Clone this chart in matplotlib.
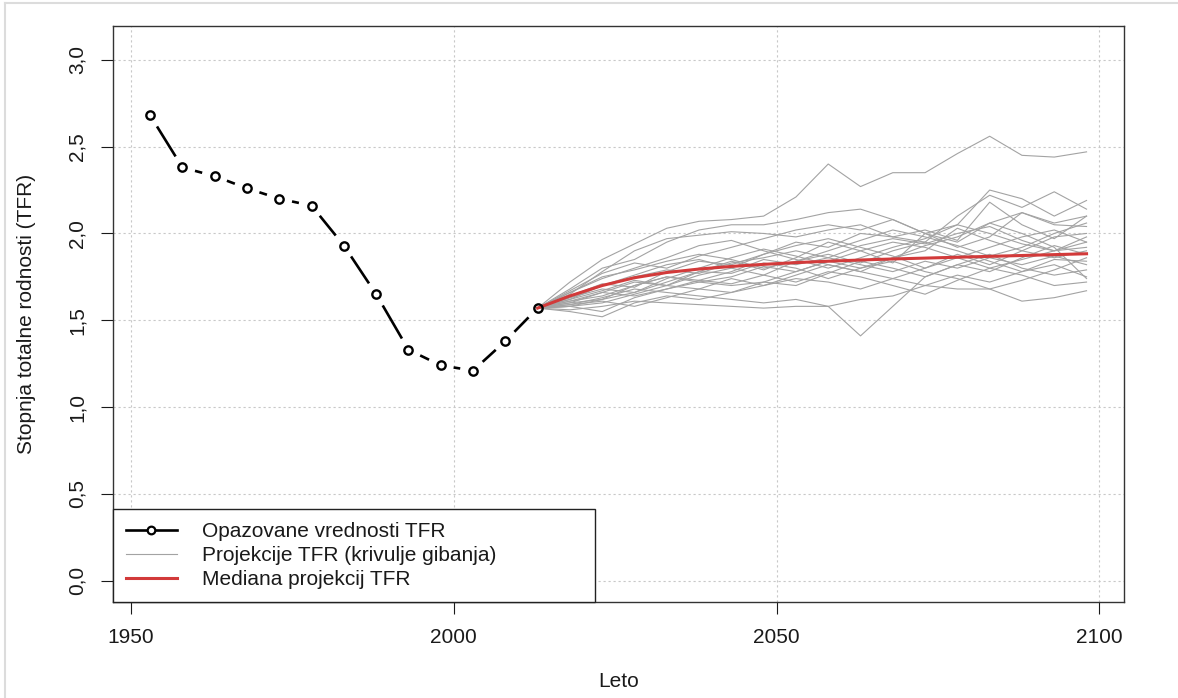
import numpy as np
import matplotlib
matplotlib.use("Agg")
from matplotlib import pyplot as plt
from matplotlib.lines import Line2D

plt.rcParams['font.family'] = ['Liberation Sans', 'DejaVu Sans']

# observed TFR (5-year periods, mid-points)
obs_years = [1953, 1958, 1963, 1968, 1973, 1978, 1983, 1988, 1993, 1998, 2003, 2008, 2013]
obs_tfr = [2.68, 2.38, 2.33, 2.26, 2.20, 2.16, 1.93, 1.65, 1.33, 1.24, 1.21, 1.38, 1.57]

# projections
proj_years = [2013, 2018, 2023, 2028, 2033, 2038, 2043, 2048, 2053, 2058,
              2063, 2068, 2073, 2078, 2083, 2088, 2093, 2098]
traj01 = [1.57, 1.72, 1.85, 1.94, 2.03, 2.07, 2.08, 2.10, 2.21, 2.40, 2.27, 2.35, 2.35, 2.46, 2.56, 2.45, 2.44, 2.47]
traj02 = [1.57, 1.68, 1.80, 1.85, 1.95, 2.02, 2.05, 2.05, 2.08, 2.12, 2.14, 2.08, 2.00, 2.05, 2.25, 2.20, 2.10, 2.19]
traj03 = [1.57, 1.65, 1.78, 1.90, 1.97, 1.99, 2.01, 2.00, 1.98, 2.02, 2.05, 1.98, 1.95, 2.10, 2.22, 2.15, 2.24, 2.14]
traj04 = [1.57, 1.62, 1.70, 1.76, 1.82, 1.85, 1.80, 1.88, 1.95, 1.92, 2.00, 1.98, 2.02, 1.96, 2.18, 2.05, 1.97, 2.10]
traj05 = [1.57, 1.60, 1.66, 1.72, 1.70, 1.78, 1.84, 1.79, 1.86, 1.95, 1.90, 1.83, 2.00, 1.92, 1.98, 2.12, 2.05, 2.04]
traj06 = [1.57, 1.58, 1.55, 1.63, 1.68, 1.72, 1.75, 1.81, 1.78, 1.84, 1.90, 1.95, 1.92, 1.86, 1.80, 1.85, 1.90, 1.92]
traj07 = [1.57, 1.63, 1.68, 1.66, 1.74, 1.80, 1.86, 1.91, 1.87, 1.82, 1.78, 1.86, 1.90, 2.03, 1.96, 1.90, 1.98, 2.00]
traj08 = [1.57, 1.55, 1.52, 1.60, 1.64, 1.62, 1.66, 1.72, 1.70, 1.77, 1.84, 1.80, 1.75, 1.82, 1.88, 1.80, 1.76, 1.79]
traj09 = [1.57, 1.61, 1.64, 1.70, 1.75, 1.73, 1.71, 1.76, 1.84, 1.88, 1.83, 1.90, 1.95, 1.90, 1.84, 1.78, 1.85, 1.84]
traj10 = [1.57, 1.66, 1.74, 1.80, 1.86, 1.93, 1.96, 1.90, 1.85, 1.80, 1.86, 1.92, 1.97, 2.05, 2.00, 1.94, 1.90, 1.95]
traj11 = [1.57, 1.59, 1.63, 1.68, 1.66, 1.64, 1.62, 1.60, 1.62, 1.58, 1.41, 1.58, 1.75, 1.82, 1.78, 1.86, 1.93, 1.88]
traj12 = [1.57, 1.56, 1.58, 1.61, 1.60, 1.59, 1.58, 1.57, 1.58, 1.58, 1.62, 1.64, 1.70, 1.68, 1.68, 1.61, 1.63, 1.67]
traj13 = [1.57, 1.64, 1.71, 1.69, 1.78, 1.84, 1.82, 1.88, 1.93, 1.97, 1.92, 1.87, 1.80, 1.86, 1.92, 1.98, 2.02, 1.95]
traj14 = [1.57, 1.60, 1.62, 1.66, 1.72, 1.78, 1.77, 1.83, 1.80, 1.74, 1.80, 1.86, 1.93, 1.98, 2.06, 2.00, 1.92, 1.74]
traj15 = [1.57, 1.62, 1.67, 1.73, 1.70, 1.76, 1.80, 1.76, 1.72, 1.78, 1.75, 1.70, 1.65, 1.73, 1.80, 1.76, 1.70, 1.72]
traj16 = [1.57, 1.67, 1.77, 1.83, 1.80, 1.87, 1.92, 1.97, 2.02, 2.05, 2.02, 2.08, 2.00, 1.95, 2.06, 2.12, 2.06, 2.10]
traj17 = [1.57, 1.58, 1.60, 1.65, 1.70, 1.68, 1.74, 1.70, 1.76, 1.82, 1.78, 1.74, 1.70, 1.76, 1.72, 1.78, 1.82, 1.75]
traj18 = [1.57, 1.61, 1.66, 1.64, 1.68, 1.73, 1.78, 1.85, 1.82, 1.86, 1.93, 1.97, 1.94, 2.00, 2.04, 1.96, 1.90, 1.98]
traj19 = [1.57, 1.63, 1.70, 1.75, 1.79, 1.77, 1.83, 1.86, 1.90, 1.86, 1.82, 1.78, 1.84, 1.80, 1.86, 1.82, 1.87, 1.82]
traj20 = [1.57, 1.59, 1.61, 1.58, 1.63, 1.68, 1.66, 1.70, 1.74, 1.72, 1.68, 1.74, 1.80, 1.88, 1.82, 1.90, 1.86, 1.90]
traj21 = [1.57, 1.66, 1.75, 1.79, 1.84, 1.88, 1.85, 1.80, 1.84, 1.90, 1.96, 2.02, 1.98, 1.93, 1.87, 1.92, 2.00, 2.06]
traj22 = [1.57, 1.58, 1.62, 1.70, 1.75, 1.72, 1.70, 1.72, 1.78, 1.84, 1.80, 1.84, 1.78, 1.74, 1.68, 1.73, 1.79, 1.86]
trajectories = [traj01, traj02, traj03, traj04, traj05, traj06, traj07, traj08, traj09, traj10, traj11,
                traj12, traj13, traj14, traj15, traj16, traj17, traj18, traj19, traj20, traj21, traj22]
median_tfr = [1.57, 1.64, 1.70, 1.745, 1.775, 1.795, 1.81, 1.822, 1.832, 1.84, 1.847,
              1.853, 1.858, 1.863, 1.868, 1.873, 1.878, 1.883]

x_ticks = [1950, 2000, 2050, 2100]
y_ticks = [0.0, 0.5, 1.0, 1.5, 2.0, 2.5, 3.0]
y_ticklabels = ["0,0", "0,5", "1,0", "1,5", "2,0", "2,5", "3,0"]
labels = ["Opazovane vrednosti TFR", "Projekcije TFR (krivulje gibanja)", "Mediana projekcij TFR"]

W, H = 1178, 698
fig = plt.figure(figsize=(W / 100, H / 100), dpi=100)
ax = fig.add_axes([112.7 / W, (H - 602) / H, (1124 - 112.7) / W, (602 - 26) / H])
ax.set_xlim(1947.2, 2103.8)
ax.set_ylim(-0.123, 3.195)

ax.set_xticks(x_ticks)
ax.set_yticks(y_ticks)
ax.set_yticklabels(y_ticklabels)
for lbl in ax.get_yticklabels():
    lbl.set_rotation(90)
    lbl.set_va('center')
ax.tick_params(direction='out', length=8.6, width=0.8, labelsize=15, colors='#1a1a1a', pad=10)
ax.tick_params(axis='y', pad=10)
for s in ax.spines.values():
    s.set_linewidth(1.0)
    s.set_color('#333333')
ax.grid(True, color='#c8c8c8', linestyle=(0, (2, 2.5)), linewidth=0.8)
ax.set_axisbelow(True)

ax.set_xlabel("Leto", fontsize=15, color='#1a1a1a', labelpad=18)
ax.set_ylabel("Stopnja totalne rodnosti (TFR)", fontsize=15, color='#1a1a1a', labelpad=23)

gray = '#a3a3a3'
red = '#d23a3a'
for tr in trajectories:
    ax.plot(proj_years, tr, color=gray, lw=0.8, zorder=2)
ax.plot(proj_years, median_tfr, color=red, lw=2.2, zorder=3)

# observed: R type="b" style, lines broken around the points
gap = 13.0
pts = ax.transData.transform(np.column_stack([obs_years, obs_tfr]))
inv = ax.transData.inverted()
for i in range(len(pts) - 1):
    p0, p1 = pts[i], pts[i + 1]
    d = p1 - p0
    L = np.hypot(*d)
    if L <= 2 * gap:
        continue
    u = d / L
    seg = inv.transform(np.array([p0 + u * gap, p1 - u * gap]))
    ax.plot(seg[:, 0], seg[:, 1], color='black', lw=1.9, solid_capstyle='butt', zorder=4)
ax.plot(obs_years, obs_tfr, linestyle='none', marker='o', ms=6, mfc='none',
        mec='black', mew=1.7, zorder=5)

handles = [Line2D([], [], color='black', lw=1.9, marker='o', ms=5.5, mfc='white', mec='black', mew=1.6),
           Line2D([], [], color=gray, lw=0.8),
           Line2D([], [], color=red, lw=2.2)]
leg = ax.legend(handles, labels, loc='lower left', bbox_to_anchor=(0, 0, (595 - 112.7) / (1124 - 112.7), 0.2),
                mode='expand', borderaxespad=0, fontsize=15, frameon=True, fancybox=False,
                framealpha=1, edgecolor='#222222', borderpad=0.62, labelspacing=0.24,
                handlelength=2.45, handletextpad=1.2)
leg.get_frame().set_linewidth(1.0)
for t in leg.get_texts():
    t.set_color('#1a1a1a')

# light frame around the picture
fig.add_artist(Line2D([5 / W, 5 / W], [0, 1 - 3 / H], color='#dcdcdc', lw=1.5, transform=fig.transFigure))
fig.add_artist(Line2D([5 / W, 1], [1 - 3 / H, 1 - 3 / H], color='#dcdcdc', lw=1.5, transform=fig.transFigure))

fig.savefig("out.png", dpi=100)
